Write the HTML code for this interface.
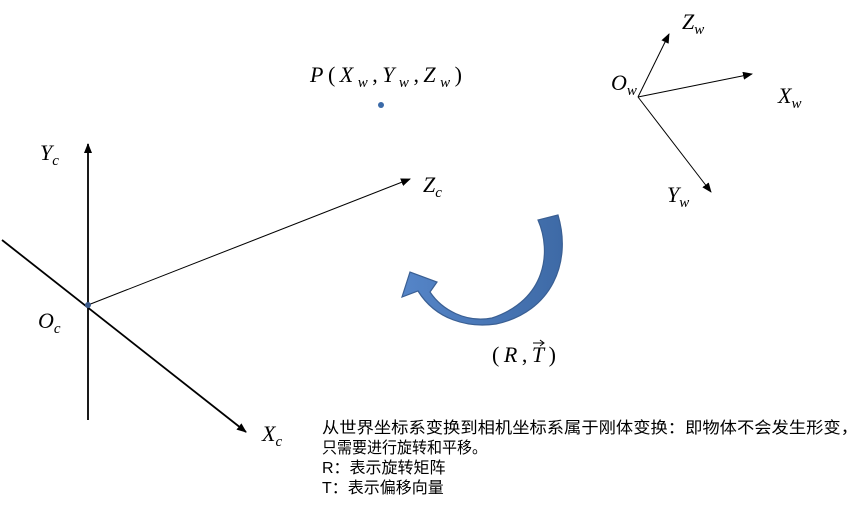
<!DOCTYPE html>
<html><head><meta charset="utf-8"><style>body{margin:0;background:#fff}svg{display:block}</style></head><body>
<svg width="864" height="509" xmlns="http://www.w3.org/2000/svg">
<defs>
<marker id="a" markerWidth="10" markerHeight="8" refX="9" refY="4" orient="auto" markerUnits="userSpaceOnUse"><path d="M0,0 L10,4 L0,8 Z" fill="#000"/></marker>
<linearGradient id="g" x1="0" y1="0" x2="1" y2="0"><stop offset="0" stop-color="#5585c8"/><stop offset="1" stop-color="#3e6aa6"/></linearGradient>
</defs>
<g stroke="#000" fill="none">
<line x1="88" y1="420" x2="88" y2="144" stroke-width="1.8" marker-end="url(#a)"/>
<line x1="2" y1="240" x2="246" y2="432" stroke-width="1.8" marker-end="url(#a)"/>
<line x1="88" y1="305" x2="410" y2="179" stroke-width="1" marker-end="url(#a)"/>
<line x1="638" y1="97" x2="669" y2="34" stroke-width="1" marker-end="url(#a)"/>
<line x1="638" y1="97" x2="752" y2="74" stroke-width="1" marker-end="url(#a)"/>
<line x1="638" y1="97" x2="711" y2="192" stroke-width="1" marker-end="url(#a)"/>
</g>
<circle cx="88" cy="305" r="3" fill="#3b5a8a"/>
<circle cx="381" cy="105" r="3" fill="#3b6aa8"/>
<path d="M538,220 C552,252 546,300 492,318 C466,323 442,310 430,292 L437,282 L410,272 L402,297 L418,291 C436,320 468,328 496,324 C552,312 572,262 558,215 Z" fill="url(#g)" stroke="#3a5f93" stroke-width="1.2"/>
<g font-family="Liberation Serif, serif" font-style="italic" font-size="22" fill="#000">
<text x="40" y="160">Y<tspan font-size="15" dy="5">c</tspan></text>
<text x="38" y="328">O<tspan font-size="15" dy="5">c</tspan></text>
<text x="262" y="441">X<tspan font-size="15" dy="5">c</tspan></text>
<text x="423" y="192">Z<tspan font-size="15" dy="5">c</tspan></text>
<text x="310" y="82" textLength="152" lengthAdjust="spacing">P<tspan font-style="normal">(</tspan>X<tspan font-size="15" dy="5">w</tspan><tspan dy="-5" font-style="normal">,</tspan>Y<tspan font-size="15" dy="5">w</tspan><tspan dy="-5" font-style="normal">,</tspan>Z<tspan font-size="15" dy="5">w</tspan><tspan dy="-5" font-style="normal">)</tspan></text>
<text x="682" y="29">Z<tspan font-size="15" dy="5">w</tspan></text>
<text x="611" y="90">O<tspan font-size="15" dy="5">w</tspan></text>
<text x="778" y="103">X<tspan font-size="15" dy="5">w</tspan></text>
<text x="667" y="202">Y<tspan font-size="15" dy="5">w</tspan></text>
<text x="492" y="362" textLength="64" lengthAdjust="spacing"><tspan font-style="normal">(</tspan>R<tspan font-style="normal">,</tspan>T<tspan font-style="normal">)</tspan></text>
</g>
<line x1="533" y1="343" x2="543" y2="343" stroke="#000" stroke-width="1"/>
<path d="M540,340 L544,343 L540,346" stroke="#000" fill="none" stroke-width="1"/>
<g font-family="Liberation Sans, Noto Sans CJK SC, sans-serif" font-size="16" fill="#000">
<text x="322" y="433" textLength="536" lengthAdjust="spacingAndGlyphs">从世界坐标系变换到相机坐标系属于刚体变换：即物体不会发生形变，</text>
<text x="322" y="453" textLength="165" lengthAdjust="spacingAndGlyphs">只需要进行旋转和平移。</text>
<text x="322" y="473">R：表示旋转矩阵</text>
<text x="322" y="493">T：表示偏移向量</text>
</g>
</svg>
</body></html>
